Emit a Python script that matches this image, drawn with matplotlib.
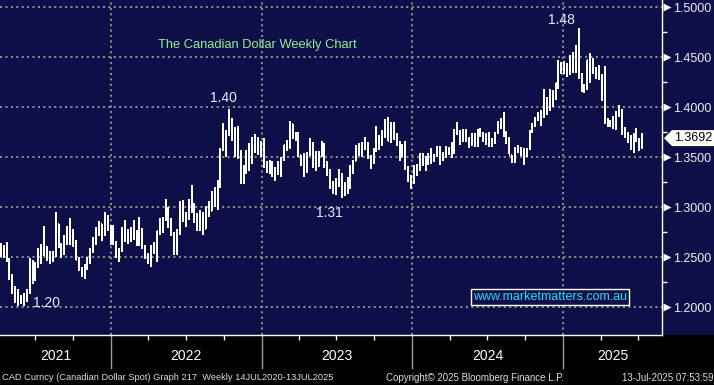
import pandas as pd
import matplotlib
matplotlib.use("Agg")
import matplotlib.pyplot as plt
import matplotlib.dates as mdates
from matplotlib.patches import Rectangle, Polygon
from matplotlib.transforms import blended_transform_factory

plt.rcParams["font.family"] = ["Liberation Sans", "DejaVu Sans"]

# ── Weekly USD/CAD bars, week ending Friday, first bar 9 Apr 2021 ────────────
FIRST_WEEK = "2021-04-09"

opn = [
    # 2021
    1.257, 1.256, 1.252, 1.247, 1.229, 1.215, 1.212, 1.207, 1.207, 1.209,
    1.215, 1.246, 1.227, 1.240, 1.245, 1.262, 1.255, 1.248, 1.254, 1.251,
    1.283, 1.261, 1.253, 1.268, 1.276, 1.266, 1.265, 1.247, 1.237, 1.238,
    1.238, 1.245, 1.256, 1.264, 1.277, 1.283, 1.273, 1.289, 1.281,
    # 2022
    1.263, 1.264, 1.251, 1.257, 1.272, 1.276, 1.274, 1.276, 1.272, 1.275,
    1.276, 1.259, 1.249, 1.250, 1.260, 1.262, 1.276, 1.285, 1.288, 1.299,
    1.283, 1.274, 1.259, 1.274, 1.301, 1.289, 1.288, 1.296, 1.303, 1.288,
    1.281, 1.294, 1.278, 1.300, 1.296, 1.312, 1.301, 1.326, 1.358, 1.375,
    1.375, 1.387, 1.369, 1.362, 1.349, 1.327, 1.338, 1.337, 1.345, 1.361,
    1.367, 1.359,
    # 2023
    1.355, 1.343, 1.340, 1.339, 1.331, 1.339, 1.334, 1.347, 1.362, 1.361,
    1.383, 1.373, 1.374, 1.352, 1.351, 1.337, 1.354, 1.358, 1.340, 1.355,
    1.351, 1.362, 1.341, 1.334, 1.319, 1.319, 1.325, 1.327, 1.319, 1.322,
    1.323, 1.337, 1.346, 1.355, 1.359, 1.360, 1.364, 1.351, 1.348, 1.358,
    1.367, 1.365, 1.371, 1.387, 1.366, 1.380, 1.372, 1.365, 1.350, 1.358,
    1.340, 1.326,
    # 2024
    1.325, 1.337, 1.340, 1.347, 1.345, 1.344, 1.346, 1.351, 1.351, 1.356,
    1.348, 1.354, 1.359, 1.354, 1.362, 1.377, 1.375, 1.368, 1.368, 1.368,
    1.362, 1.370, 1.363, 1.376, 1.374, 1.370, 1.368, 1.364, 1.365, 1.374,
    1.382, 1.388, 1.374, 1.368, 1.352, 1.349, 1.358, 1.359, 1.355, 1.353,
    1.358, 1.376, 1.381, 1.389, 1.394, 1.391, 1.408, 1.398, 1.401, 1.416,
    1.424, 1.436,
    # 2025
    1.441, 1.442, 1.442, 1.449, 1.435, 1.453, 1.430, 1.418, 1.422, 1.447,
    1.435, 1.438, 1.434, 1.430, 1.423, 1.387, 1.383, 1.385, 1.382, 1.394,
    1.397, 1.374, 1.374, 1.370, 1.360, 1.373, 1.368, 1.360,
]

high = [
    # 2021
    1.264, 1.262, 1.265, 1.249, 1.233, 1.221, 1.218, 1.212, 1.214, 1.218,
    1.249, 1.247, 1.245, 1.259, 1.263, 1.281, 1.261, 1.256, 1.256, 1.295,
    1.283, 1.264, 1.272, 1.281, 1.289, 1.278, 1.267, 1.250, 1.240, 1.243,
    1.250, 1.259, 1.270, 1.280, 1.286, 1.283, 1.295, 1.292, 1.282,
    # 2022
    1.282, 1.266, 1.259, 1.280, 1.287, 1.278, 1.280, 1.287, 1.277, 1.290,
    1.279, 1.262, 1.254, 1.262, 1.265, 1.276, 1.289, 1.290, 1.308, 1.300,
    1.289, 1.275, 1.278, 1.306, 1.307, 1.295, 1.308, 1.322, 1.304, 1.294,
    1.297, 1.295, 1.301, 1.306, 1.316, 1.320, 1.327, 1.359, 1.384, 1.377,
    1.398, 1.389, 1.380, 1.381, 1.357, 1.342, 1.357, 1.364, 1.370, 1.373,
    1.370, 1.366,
    # 2023
    1.369, 1.346, 1.347, 1.346, 1.340, 1.346, 1.350, 1.362, 1.367, 1.386,
    1.383, 1.375, 1.375, 1.352, 1.354, 1.355, 1.369, 1.365, 1.356, 1.356,
    1.366, 1.364, 1.346, 1.338, 1.326, 1.329, 1.338, 1.334, 1.325, 1.330,
    1.342, 1.347, 1.362, 1.364, 1.365, 1.370, 1.365, 1.352, 1.359, 1.381,
    1.372, 1.377, 1.388, 1.390, 1.385, 1.385, 1.374, 1.366, 1.363, 1.366,
    1.341, 1.332,
    # 2024
    1.342, 1.343, 1.354, 1.354, 1.351, 1.354, 1.359, 1.353, 1.361, 1.361,
    1.355, 1.361, 1.360, 1.365, 1.378, 1.385, 1.377, 1.378, 1.378, 1.370,
    1.374, 1.374, 1.378, 1.379, 1.375, 1.374, 1.375, 1.369, 1.375, 1.386,
    1.389, 1.395, 1.376, 1.370, 1.352, 1.360, 1.362, 1.360, 1.359, 1.359,
    1.377, 1.384, 1.390, 1.395, 1.397, 1.418, 1.410, 1.418, 1.417, 1.424,
    1.447, 1.445,
    # 2025
    1.446, 1.444, 1.452, 1.455, 1.462, 1.479, 1.434, 1.423, 1.447, 1.454,
    1.449, 1.440, 1.442, 1.433, 1.441, 1.389, 1.387, 1.391, 1.396, 1.402,
    1.398, 1.380, 1.375, 1.372, 1.374, 1.379, 1.369, 1.374,
]

low = [
    # 2021
    1.250, 1.249, 1.245, 1.227, 1.213, 1.204, 1.201, 1.203, 1.201, 1.205,
    1.213, 1.223, 1.226, 1.239, 1.243, 1.251, 1.246, 1.243, 1.245, 1.250,
    1.259, 1.249, 1.252, 1.262, 1.262, 1.260, 1.247, 1.236, 1.230, 1.228,
    1.237, 1.243, 1.254, 1.262, 1.271, 1.266, 1.271, 1.276, 1.262,
    # 2022
    1.262, 1.249, 1.245, 1.255, 1.265, 1.263, 1.265, 1.267, 1.261, 1.261,
    1.258, 1.248, 1.243, 1.240, 1.253, 1.245, 1.272, 1.274, 1.286, 1.279,
    1.271, 1.252, 1.252, 1.272, 1.285, 1.280, 1.287, 1.294, 1.284, 1.276,
    1.276, 1.272, 1.278, 1.290, 1.296, 1.300, 1.297, 1.319, 1.356, 1.350,
    1.371, 1.366, 1.350, 1.348, 1.323, 1.323, 1.333, 1.336, 1.343, 1.354,
    1.352, 1.350,
    # 2023
    1.339, 1.334, 1.333, 1.330, 1.326, 1.332, 1.330, 1.346, 1.356, 1.358,
    1.368, 1.366, 1.350, 1.341, 1.330, 1.334, 1.351, 1.339, 1.336, 1.340,
    1.350, 1.339, 1.331, 1.318, 1.313, 1.312, 1.320, 1.309, 1.311, 1.313,
    1.318, 1.333, 1.346, 1.351, 1.350, 1.357, 1.348, 1.338, 1.343, 1.355,
    1.357, 1.361, 1.369, 1.366, 1.364, 1.367, 1.361, 1.346, 1.350, 1.337,
    1.325, 1.318,
    # 2024
    1.323, 1.331, 1.336, 1.341, 1.336, 1.342, 1.343, 1.345, 1.350, 1.342,
    1.346, 1.349, 1.352, 1.349, 1.353, 1.372, 1.362, 1.365, 1.365, 1.359,
    1.361, 1.360, 1.360, 1.370, 1.365, 1.362, 1.360, 1.360, 1.363, 1.373,
    1.378, 1.370, 1.363, 1.353, 1.344, 1.344, 1.354, 1.351, 1.342, 1.350,
    1.357, 1.374, 1.380, 1.386, 1.381, 1.389, 1.392, 1.396, 1.400, 1.407,
    1.418, 1.433,
    # 2025
    1.433, 1.430, 1.432, 1.434, 1.434, 1.428, 1.415, 1.414, 1.417, 1.424,
    1.433, 1.428, 1.427, 1.406, 1.383, 1.380, 1.380, 1.378, 1.377, 1.390,
    1.372, 1.369, 1.364, 1.357, 1.354, 1.365, 1.356, 1.358,
]

close = [
    # 2021
    1.256, 1.252, 1.247, 1.229, 1.215, 1.212, 1.207, 1.207, 1.209, 1.215,
    1.246, 1.227, 1.240, 1.245, 1.262, 1.255, 1.248, 1.254, 1.251, 1.283,
    1.261, 1.253, 1.268, 1.276, 1.266, 1.265, 1.247, 1.237, 1.238, 1.238,
    1.245, 1.256, 1.264, 1.277, 1.283, 1.273, 1.289, 1.281, 1.263,
    # 2022
    1.264, 1.251, 1.257, 1.272, 1.276, 1.274, 1.276, 1.272, 1.275, 1.276,
    1.259, 1.249, 1.250, 1.260, 1.262, 1.276, 1.285, 1.288, 1.299, 1.283,
    1.274, 1.259, 1.274, 1.301, 1.289, 1.288, 1.296, 1.303, 1.288, 1.281,
    1.294, 1.278, 1.300, 1.296, 1.312, 1.301, 1.326, 1.358, 1.375, 1.375,
    1.387, 1.369, 1.362, 1.349, 1.327, 1.338, 1.337, 1.345, 1.361, 1.367,
    1.359, 1.355,
    # 2023
    1.343, 1.340, 1.339, 1.331, 1.339, 1.334, 1.347, 1.362, 1.361, 1.383,
    1.373, 1.374, 1.352, 1.351, 1.337, 1.354, 1.358, 1.340, 1.355, 1.351,
    1.362, 1.341, 1.334, 1.319, 1.319, 1.325, 1.327, 1.319, 1.322, 1.323,
    1.337, 1.346, 1.355, 1.359, 1.360, 1.364, 1.351, 1.348, 1.358, 1.367,
    1.365, 1.371, 1.387, 1.366, 1.380, 1.372, 1.365, 1.350, 1.358, 1.340,
    1.326, 1.325,
    # 2024
    1.337, 1.340, 1.347, 1.345, 1.344, 1.346, 1.351, 1.351, 1.356, 1.348,
    1.354, 1.359, 1.354, 1.362, 1.377, 1.375, 1.368, 1.368, 1.368, 1.362,
    1.370, 1.363, 1.376, 1.374, 1.370, 1.368, 1.364, 1.365, 1.374, 1.382,
    1.388, 1.374, 1.368, 1.352, 1.349, 1.358, 1.359, 1.355, 1.353, 1.358,
    1.376, 1.381, 1.389, 1.394, 1.391, 1.408, 1.398, 1.401, 1.416, 1.424,
    1.436, 1.441,
    # 2025
    1.442, 1.442, 1.449, 1.435, 1.453, 1.430, 1.418, 1.422, 1.447, 1.435,
    1.438, 1.434, 1.430, 1.423, 1.387, 1.383, 1.385, 1.382, 1.394, 1.397,
    1.374, 1.374, 1.370, 1.360, 1.373, 1.368, 1.360, 1.369,
]

LAST_PRICE = "1.3692"
LAST_VALUE = 1.3692
Y_LEVELS = [1.20, 1.25, 1.30, 1.35, 1.40, 1.45, 1.50]
YEARS = [2021, 2022, 2023, 2024, 2025]

TITLE = "The Canadian Dollar Weekly Chart"
SITE = "www.marketmatters.com.au"
FOOT_L = "CAD Curncy (Canadian Dollar Spot) Graph 217  Weekly 14JUL2020-13JUL2025"
FOOT_C = "Copyright\u00a9 2025 Bloomberg Finance L.P."
FOOT_R = "13-Jul-2025 07:53:59"

# ── Layout (pixels) ─────────────────────────────────────────────────────────
W, H = 714, 385
PW, PH = 662, 335          # plot box, top-left anchored
NAVY = "#0e0e48"
GRID = "#8a8a8a"

fig = plt.figure(figsize=(W / 100, H / 100), dpi=100, facecolor="black")
fig.patches.append(Rectangle((0, (H - PH) / H), 1, PH / H, transform=fig.transFigure,
                             facecolor=NAVY, edgecolor="none", zorder=-10))
ax = fig.add_axes([0, (H - PH) / H, PW / W, PH / H])
ax.set_facecolor(NAVY)

weeks = pd.date_range(FIRST_WEEK, periods=len(close), freq="7D")
xd = mdates.date2num(weeks)

ax.set_xlim(mdates.date2num(pd.Timestamp("2021-04-07")), mdates.date2num(pd.Timestamp("2025-08-28")))
ax.set_ylim(1.1723, 1.5073)

# grid
for lvl in Y_LEVELS:
    ax.axhline(lvl, color=GRID, lw=1.5, ls=(0, (1, 1.6)), zorder=1)
year_x = [mdates.date2num(pd.Timestamp(f"{y}-01-01")) for y in YEARS[1:]]
for xv in year_x:
    ax.axvline(xv, color=GRID, lw=1.5, ls=(0, (1, 1.6)), zorder=1)

# OHLC bars
tick = 2.4  # days
bar = dict(color="white", lw=1.3, zorder=3, antialiased=False)
ax.vlines(xd, low, high, **bar)
ax.hlines(opn, xd - tick, xd, **bar)
ax.hlines(close, xd, xd + tick, **bar)

# spines
for s in ["top", "left"]:
    ax.spines[s].set_visible(False)
for s in ["right", "bottom"]:
    ax.spines[s].set_color("white")
    ax.spines[s].set_linewidth(1)

# right axis
ax.yaxis.tick_right()
ax.set_yticks(Y_LEVELS)
ax.set_yticklabels([f"{v:.4f}" for v in Y_LEVELS])
ax.set_yticks([v + 0.025 for v in Y_LEVELS[:-1]], minor=True)
ax.tick_params(axis="y", which="major", length=0, pad=8, colors="#f0f0f0", labelsize=9)
ax.tick_params(axis="y", which="minor", length=3.5, width=1, color="white")
tr_y = blended_transform_factory(ax.transAxes, ax.transData)
for lvl in Y_LEVELS:
    ax.plot([1 + 5 / PW], [lvl], marker=">", ms=5.5, color="white", mec="none",
            transform=tr_y, clip_on=False, zorder=5)

# bottom axis: quarter ticks, year separators and labels
q_ticks = [mdates.date2num(d) for d in pd.date_range("2021-07-01", "2025-07-01", freq="QS-JAN")
           if d.month != 1]
ax.set_xticks(q_ticks)
ax.set_xticklabels([])
ax.tick_params(axis="x", length=3.5, width=1, color="white", direction="out")
tr_x = blended_transform_factory(ax.transData, ax.transAxes)
for xv in year_x:
    ax.plot([xv, xv], [0, -33 / PH], color="#9a9a9a", lw=1, transform=tr_x, clip_on=False)
bounds = [ax.get_xlim()[0]] + year_x + [ax.get_xlim()[1]]
for yr, a, b in zip(YEARS, bounds[:-1], bounds[1:]):
    ax.text((a + b) / 2, -21 / PH, str(yr), transform=tr_x, ha="center", va="center",
            color="white", fontsize=10)

# current price tag
poly = Polygon([(1 + 2 / PW, LAST_VALUE), (1 + 10 / PW, LAST_VALUE + 0.008),
                (1 + 52 / PW, LAST_VALUE + 0.008), (1 + 52 / PW, LAST_VALUE - 0.008),
                (1 + 10 / PW, LAST_VALUE - 0.008)], closed=True, facecolor="white",
               edgecolor="none", transform=tr_y, clip_on=False, zorder=6)
ax.add_patch(poly)
ax.text(1 + 31 / PW, LAST_VALUE, LAST_PRICE, transform=tr_y, ha="center", va="center",
        color="black", fontsize=9, zorder=7)


def px(x, y):
    return x / PW, 1 - y / PH


# annotations
ax.text(*px(158, 45), TITLE, transform=ax.transAxes, color="#8ff08f", fontsize=9.3,
        ha="left", va="center")
lab = dict(transform=ax.transAxes, color="#e6ecff", fontsize=10, ha="center", va="center")
ax.text(*px(46, 303), "1.20", **lab)
ax.text(*px(223, 98), "1.40", **lab)
ax.text(*px(329, 213), "1.31", **lab)
ax.text(*px(561, 20), "1.48", **lab)
ax.text(*px(550, 297), SITE, transform=ax.transAxes, color="#19e0f5", fontsize=9,
        ha="center", va="center",
        bbox=dict(boxstyle="square,pad=0.15", facecolor=NAVY, edgecolor="white", lw=1))

# footer
fy = (H - 378) / H
fig.text(2 / W, fy, FOOT_L, color="#dcdcdc", fontsize=6.7, ha="left", va="center")
fig.text(475 / W, fy, FOOT_C, color="#dcdcdc", fontsize=7, ha="center", va="center")
fig.text(713 / W, fy, FOOT_R, color="#dcdcdc", fontsize=7, ha="right", va="center")

fig.savefig("out.png", dpi=100, facecolor="black")
